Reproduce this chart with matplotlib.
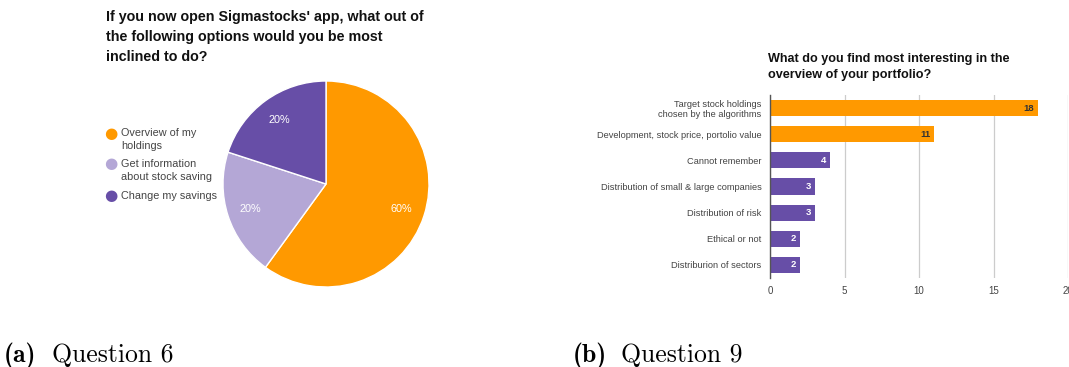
import matplotlib.pyplot as plt

W, H = 1069, 367

# question 6 - pie
pie_labels = ['Overview of my\nholdings', 'Get information\nabout stock saving', 'Change my savings']
pie_values = [60, 20, 20]
pie_colors = ['#ff9900', '#b4a7d6', '#674ea7']

# question 9 - bars
bar_labels = ['Target stock holdings\nchosen by the algorithms',
              'Development, stock price, portolio value',
              'Cannot remember',
              'Distribution of small & large companies',
              'Distribution of risk',
              'Ethical or not',
              'Distriburion of sectors']
bar_values = [18, 11, 4, 3, 3, 2, 2]
bar_colors = ['#ff9900', '#ff9900', '#674ea7', '#674ea7', '#674ea7', '#674ea7', '#674ea7']
x_ticks = [0, 5, 10, 15, 20]


def px_axes(fig, x0, y0, x1, y1):
    # pixel box (top-left origin) -> figure axes
    return fig.add_axes([x0 / W, 1 - y1 / H, (x1 - x0) / W, (y1 - y0) / H])


fig = plt.figure(figsize=(W / 100, H / 100), dpi=100)
sans = 'Liberation Sans'

# ---- pie ----
fig.text(106 / W, 1 - 10 / H,
         "If you now open Sigmastocks' app, what out of\nthe following options would you be most\ninclined to do?",
         family=sans, weight='bold', fontsize=10.3, va='top', ha='left', linespacing=1.53, color='#111111')

ax1 = px_axes(fig, 223, 81, 429, 287)
wedges, texts, autotexts = ax1.pie(pie_values, colors=pie_colors, startangle=90, counterclock=False,
                                   autopct='%d%%', pctdistance=0.77,
                                   wedgeprops=dict(edgecolor='white', linewidth=1))
for t in autotexts:
    t.set_color('white')
    t.set_fontsize(7.8)
    t.set_family(sans)
ax1.set_xlim(-1, 1)
ax1.set_ylim(-1, 1)
ax1.set_aspect('equal')

leg_y = [133, 164, 196]
for lab, col, y in zip(pie_labels, pie_colors, leg_y):
    fig.text(111 / W, 1 - y / H, '\u25cf', color=col, fontsize=11, ha='center', va='center',
             family='DejaVu Sans')
    fig.text(121 / W, 1 - (y - 5) / H, lab, family=sans, fontsize=7.8,
             color='#444444', va='top', ha='left', linespacing=1.42)

# ---- bars ----
fig.text(768 / W, 1 - 53 / H, 'What do you find most interesting in the\noverview of your portfolio?',
         family=sans, weight='bold', fontsize=9.1, va='top', ha='left', linespacing=1.4, color='#111111')

ax2 = px_axes(fig, 770, 95, 1068, 278)
ypos = list(range(len(bar_values)))
ax2.barh(ypos, bar_values, height=0.62, color=bar_colors, zorder=3)
for y, v, c in zip(ypos, bar_values, bar_colors):
    ax2.text(v - 0.25, y, str(v), ha='right', va='center', fontsize=6.8, weight='bold', family=sans,
             color='#333333' if c == '#ff9900' else 'white', zorder=4)
ax2.set_xlim(0, 20)
ax2.set_ylim(len(bar_values) - 0.5, -0.5)
ax2.set_yticks(ypos)
ax2.set_yticklabels(bar_labels, family=sans, fontsize=6.7, color='#444444')
ax2.set_xticks(x_ticks)
ax2.set_xticklabels([str(t) for t in x_ticks], family=sans, fontsize=7, color='#444444')
ax2.tick_params(length=0, pad=6)
ax2.tick_params(axis='x', pad=6)
ax2.grid(axis='x', color='#cccccc', linewidth=0.9, zorder=0)
for s in ['top', 'right', 'bottom']:
    ax2.spines[s].set_visible(False)
ax2.spines['left'].set_color('#555555')
ax2.spines['left'].set_linewidth(1)
ax2.spines['left'].set_zorder(5)

# ---- captions ----
for x, tag, q in [(4, '(a)', 'Question 6'), (573, '(b)', 'Question 9')]:
    fig.text(x / W, 1 - 362 / H, tag, family='cmb10', fontsize=18.5, va='baseline', ha='left')
    fig.text((x + 48) / W, 1 - 362 / H, q, family='cmr10', fontsize=18.5, va='baseline', ha='left')

fig.savefig('out.png', dpi=100)
